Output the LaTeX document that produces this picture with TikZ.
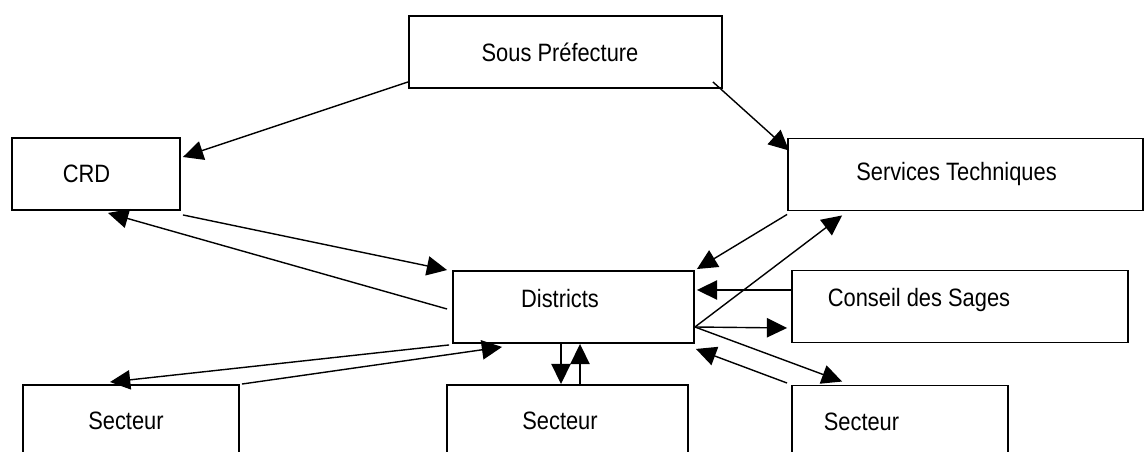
\documentclass[tikz,border=0pt]{standalone}
\usepackage{fontspec}
\setmainfont{Liberation Sans}[FakeStretch=0.87]
\usetikzlibrary{arrows.meta,calc}

\begin{document}
\begin{tikzpicture}[x=0.02cm,y=-0.02cm,
  box/.style={draw,line width=1.1pt,rectangle,inner sep=0pt,minimum height=1.44cm,
    font=\fontsize{14.3}{17}\selectfont},
  pad/.style={execute at end node={\hspace{#1}}},
  link/.style={line width=0.8pt,-{Triangle[length=11.5pt,width=11pt]}}]

\clip (0,0) rectangle (1144,452);

\node[box,minimum width=6.26cm,pad=0.22cm] (sp) at (565.5,52) {Sous Préfecture};
\node[box,minimum width=3.36cm,pad=0.38cm] (crd) at (96,174) {CRD};
\node[box,minimum width=7.1cm,pad=0.36cm] (st) at (965.5,174.5) {Services Techniques};
\node[box,minimum width=4.82cm,pad=0.54cm,text depth=0.36cm] (dist) at (573.5,307) {Districts};
\node[box,minimum width=6.72cm,pad=1.64cm,text depth=0.36cm] (cds) at (960,306.5) {Conseil des Sages};
\node[box,minimum width=4.32cm,pad=0.2cm] (sec1) at (131,421) {Secteur};
\node[box,minimum width=4.82cm,pad=0.3cm] (sec2) at (567.5,421) {Secteur};
\node[box,minimum width=4.32cm,pad=1.54cm] (sec3) at (900,421.5) {Secteur};

\coordinate (dout) at ($(dist.east)+(0,20)$);

\draw[link] ($(sp.south west)+(0,-7)$) -- ($(crd.east)+(2,-17)$);
\draw[link] ($(sp.south east)+(-10,-7)$) -- ($(st.north west)+(2,13)$);

\draw[link] ($(crd.south east)+(2,4)$) -- ($(dist.north west)+(-5,0)$);
\draw[link] ($(dist.west)+(-5,2)$) -- ($(crd.south)+(12,2)$);

\draw[link] ($(dist.south west)+(-3,1)$) -- ($(sec1.north)+(-21,-2)$);
\draw[link] ($(sec1.north east)+(2,0)$) -- ($(dist.south west)+(50,3)$);

\draw[link] ($(dist.south)+(-12.5,0)$) -- ($(sec2.north)+(-6.5,0)$);
\draw[link] ($(sec2.north)+(12.5,2)$) -- ($(dist.south)+(6.5,0)$);

\draw[link] ($(st.south west)+(0,3)$) -- ($(dist.north east)+(2,-1)$);
\draw[link] (dout) -- ($(st.south west)+(55,4)$);
\draw[link] (dout) -- ($(cds.west)+(-4,21.5)$);
\draw[link] (dout) -- ($(sec3.north west)+(51,-3)$);
\draw[link] ($(cds.west)+(0,-16.5)$) -- ($(dist.east)+(2,-17)$);
\draw[link] ($(sec3.north west)+(-4,-1.5)$) -- ($(dist.south east)+(1,5)$);

\end{tikzpicture}
\end{document}
